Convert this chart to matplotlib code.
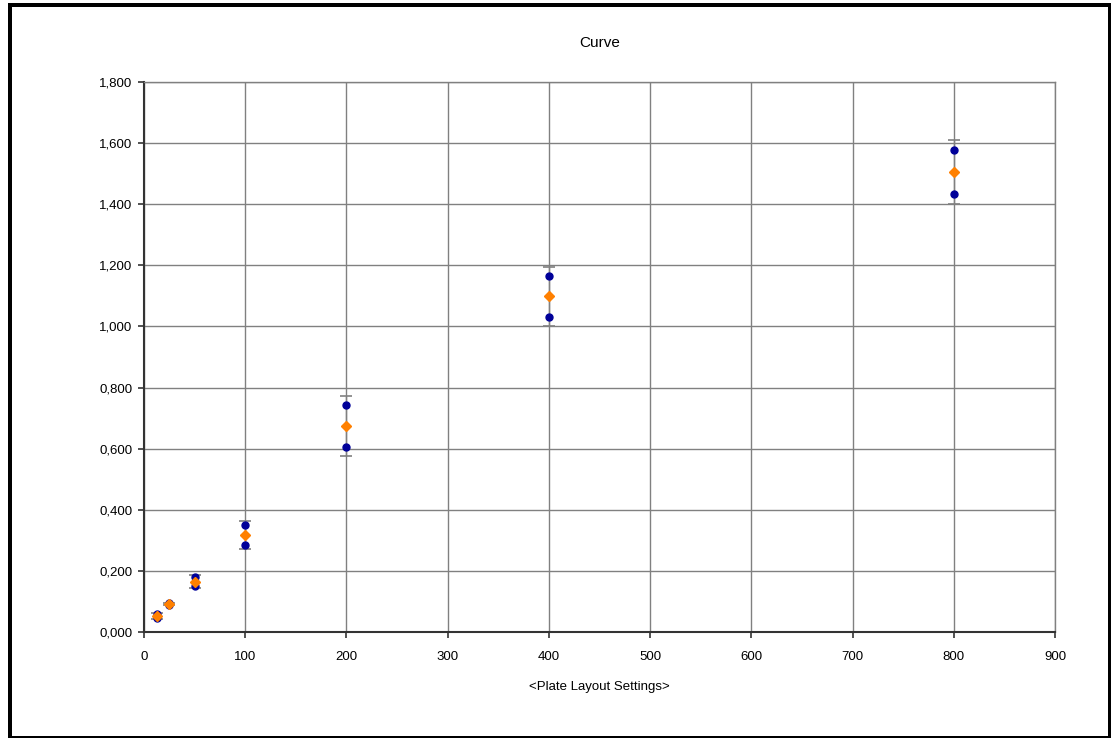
import numpy as np
import matplotlib.pyplot as plt
from matplotlib.patches import Rectangle
from matplotlib.ticker import FuncFormatter

plt.rcParams['font.family'] = ['Liberation Sans', 'DejaVu Sans']

# concentrations and the two replicate readings
conc = [12.5, 25, 50, 100, 200, 400, 800]
rep1 = [0.060, 0.095, 0.180, 0.350, 0.744, 1.166, 1.579]
rep2 = [0.045, 0.090, 0.150, 0.285, 0.605, 1.031, 1.432]

reps = np.array([rep1, rep2])
mean = reps.mean(axis=0)
sd = reps.std(axis=0, ddof=1)

fig = plt.figure(figsize=(11.11, 7.4), dpi=100)
ax = fig.add_axes([144/1111, 1-632/740, (1055-144)/1111, (632-82)/740])

# frame round the chart (thick left/top/right, thin bottom)
W, H = 1111, 740
for (x0, y0, w, h) in [(8, 3, 4, 735), (8, 3, 1103, 4), (1108, 3, 3, 735), (8, 736, 1103, 1.5)]:
    fig.patches.append(Rectangle((x0/W, 1-(y0+h)/H), w/W, h/H, transform=fig.transFigure,
                                 facecolor='black', edgecolor='none'))

ax.errorbar(conc, mean, yerr=sd, fmt='none', ecolor='#808080', elinewidth=1,
            capsize=4.5, capthick=1.2, zorder=3)
ax.plot(conc, rep1, 'o', color='#000099', markersize=5, zorder=4)
ax.plot(conc, rep2, 'o', color='#000099', markersize=5, zorder=4)
ax.plot(conc, mean, 'D', color='#FF8000', markersize=5.5, zorder=5)

ax.set_xlim(0, 900)
ax.set_ylim(0, 1.8)
ax.set_xticks(np.arange(0, 901, 100))
ax.set_yticks(np.arange(0, 1.81, 0.2))
ax.yaxis.set_major_formatter(FuncFormatter(lambda v, p: f'{v:.3f}'.replace('.', ',')))
ax.grid(True, color='#808080', linewidth=1)
ax.set_axisbelow(True)
for s in ['top', 'right']:
    ax.spines[s].set_color('#808080')
    ax.spines[s].set_linewidth(1)
for s in ['left', 'bottom']:
    ax.spines[s].set_color('#333333')
    ax.spines[s].set_linewidth(1.5)
ax.tick_params(direction='out', length=4.5, width=1.2, color='#333333', labelsize=9.5)
ax.tick_params(axis='x', pad=9)
ax.tick_params(axis='y', pad=4)

ax.set_title('Curve', fontsize=11, pad=25)
ax.set_xlabel('<Plate Layout Settings>', fontsize=9.5, labelpad=13)

fig.savefig('out.png', dpi=100)
